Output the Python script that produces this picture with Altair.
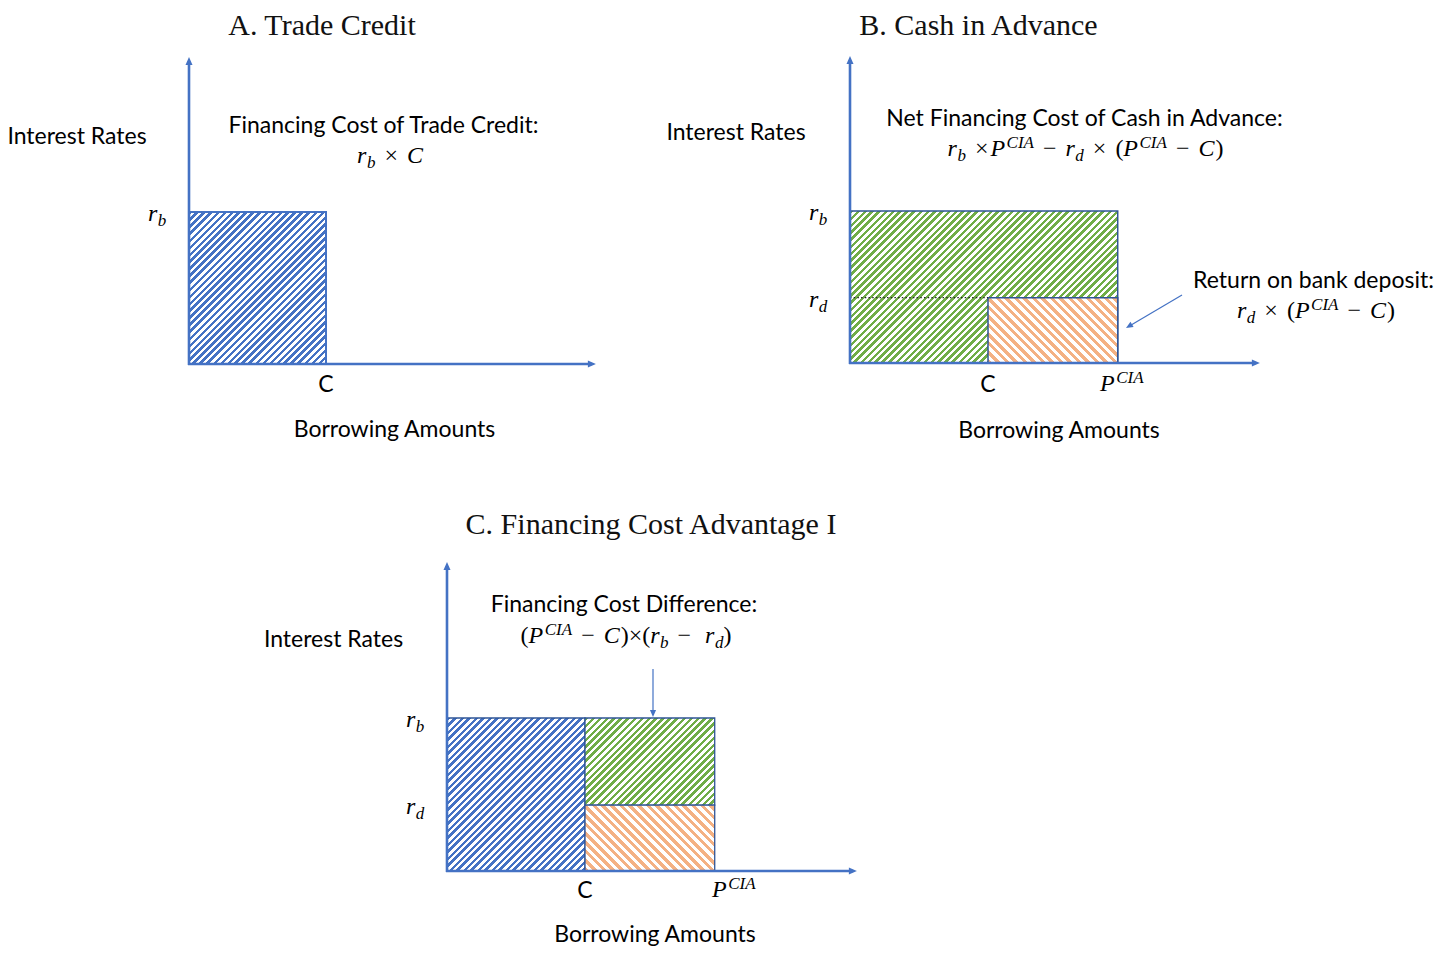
import math
import altair as alt
import pandas as pd

# ---------------- values (diagram units) ----------------
C_AMT = 1.0      # trade-credit amount C
P_CIA = 1.94     # cash-in-advance price P^CIA
R_B = 1.0        # borrowing rate r_b
R_D = 0.43       # deposit rate r_d
X_END = 2.97     # end of the borrowing-amount axis
Y_END = 2.02     # end of the interest-rate axis

panel_ids = ["A", "B", "C"]
panel_titles = ["A. Trade Credit", "B. Cash in Advance", "C. Financing Cost Advantage I"]

rect_panel = ["A", "B", "B", "C", "C", "C"]
rect_kind = ["blue", "green", "orange", "blue", "green", "orange"]
rect_x0 = [0.0, 0.0, C_AMT, 0.0, C_AMT, C_AMT]
rect_x1 = [C_AMT, P_CIA, P_CIA, C_AMT, P_CIA, P_CIA]
rect_y0 = [0.0, 0.0, 0.0, 0.0, R_D, 0.0]
rect_y1 = [R_B, R_B, R_D, R_B, R_B, R_D]

y_label = "Interest Rates"
x_label = "Borrowing Amounts"
c_label = "C"
notes = {
    "A": ["Financing Cost of Trade Credit:"],
    "B": ["Net Financing Cost of Cash in Advance:", "Return on bank deposit:"],
    "C": ["Financing Cost Difference:"],
}
G = 9
formulas = {
    "A": [[("r", "it"), ("b", "sub"), G, ("×", "op"), G, ("C", "it")]],
    "B": [
        [("r", "it"), ("b", "sub"), G, ("×", "op"), 2, ("P", "it"), ("CIA", "sup"), G, ("−", "op"), G,
         ("r", "it"), ("d", "sub"), G, ("×", "op"), G, ("(", "op"), ("P", "it"), ("CIA", "sup"), G,
         ("−", "op"), G, ("C", "it"), 1, (")", "op")],
        [("r", "it"), ("d", "sub"), G, ("×", "op"), G, ("(", "op"), ("P", "it"), ("CIA", "sup"), G,
         ("−", "op"), G, ("C", "it"), 1, (")", "op")],
    ],
    "C": [[("(", "op"), ("P", "it"), ("CIA", "sup"), G, ("−", "op"), G, ("C", "it"), 1, (")", "op"),
           ("×", "op"), ("(", "op"), ("r", "it"), ("b", "sub"), G, ("−", "op"), G + 5, ("r", "it"),
           ("d", "sub"), (")", "op")]],
}
tick_levels = {"A": [("b", R_B)], "B": [("b", R_B), ("d", R_D)], "C": [("b", R_B), ("d", R_D)]}

# ---------------- layout / style (page pixels) ----------------
MARGIN = 8
LAYOUT = {
    "A": dict(ox=189, oy=364, ux=137, uy=152, title=(322, 35), ylab=(77, 143.5), xlab=(394.5, 437),
              cdy=28, notes=[(383.5, 132.5)], forms=[(390, 163)], pcia=None,
              stroke=("#4472C4", 2.0), arrows=[]),
    "B": dict(ox=850, oy=363, ux=138, uy=152, title=(978.5, 35), ylab=(736, 140), xlab=(1059, 438),
              cdy=29, notes=[(1084.5, 126), (1313.5, 288)], forms=[(1085.5, 156), (1316, 318)],
              pcia=(1100, 391), stroke=("#2F5597", 1.5), arrows=[((1182, 295), (1126, 328))]),
    "C": dict(ox=447, oy=871, ux=138, uy=153, title=(651, 534), ylab=(333.5, 647), xlab=(655, 941.5),
              cdy=27, notes=[(624, 612)], forms=[(626, 643)], pcia=(712, 897),
              stroke=("#2F5597", 1.3), arrows=[((653, 669), (653, 717))]),
}
HATCH = {
    "blue": dict(color="#4472C4", period=7.0, duty=0.5, direction="/"),
    "green": dict(color="#70AD47", period=7.0, duty=0.5, direction="/"),
    "orange": dict(color="#F4B183", period=9.0, duty=0.47, direction="\\"),
}
AXIS_COLOR = "#4472C4"
SANS = "Lato"
SERIF = "Liberation Serif"
M_SIZE = 24
S_SIZE = 17
SANS_SIZE = 23
TITLE_SIZE = 30
W_IT = {"r": .389, "b": .5, "d": .5, "C": .667, "P": .611, "I": .333, "A": .611}
W_UP = {"×": .564, "−": .564, "(": .333, ")": .333}
HEAD = "M0,0L0.44,1L-0.44,1Z"


def compose(tokens, x0, base):
    out, x = [], x0
    for tok in tokens:
        if isinstance(tok, (int, float)):
            x += tok
            continue
        text, kind = tok
        if kind == "it":
            out.append(("it", text, x, base))
            x += sum(W_IT[c] for c in text) * M_SIZE
        elif kind == "sub":
            out.append(("script", text, x + 0.5, base + 5))
            x += sum(W_IT[c] for c in text) * S_SIZE + 0.5
        elif kind == "sup":
            out.append(("script", text, x + 1.5, base - 8))
            x += sum(W_IT[c] for c in text) * S_SIZE + 1.5
        else:
            out.append(("op", text, x, base))
            x += sum(W_UP[c] for c in text) * M_SIZE
    return out, x - x0


def hatch(W, H, color, period, duty, direction):
    total = W + H
    a = total / (W * W + H * H)
    if direction == "/":
        x1, y1, x2, y2 = 0, 0, a * W, a * H
    else:
        x1, y1, x2, y2 = 0, 1, a * W, 1 - a * H
    stops = []
    k = 0
    while k * period < total:
        t0 = k * period / total
        tm = min((k + duty) * period / total, 1.0)
        t1 = min((k + 1) * period / total, 1.0)
        stops += [(t0, color), (tm, color), (tm, "#ffffff"), (t1, "#ffffff")]
        k += 1
    return {"gradient": "linear", "x1": x1, "y1": y1, "x2": x2, "y2": y2,
            "stops": [{"offset": round(o, 5), "color": c} for o, c in stops]}


layers = []
for pi, pid in enumerate(panel_ids):
    L = LAYOUT[pid]
    ox, oy, ux, uy = L["ox"], L["oy"], L["ux"], L["uy"]
    xs = alt.Scale(domain=[0, 3], range=[ox - MARGIN, ox - MARGIN + 3 * ux], nice=False, zero=False)
    ys = alt.Scale(domain=[0, 2], range=[oy - MARGIN, oy - MARGIN - 2 * uy], nice=False, zero=False)

    def ex(f="x"):
        return alt.X(f"{f}:Q", scale=xs, axis=None)

    def ey(f="y"):
        return alt.Y(f"{f}:Q", scale=ys, axis=None)

    def to_data(px, py):
        return (px - ox) / ux, (oy - py) / uy

    # hatched rectangles
    for i in range(len(rect_panel)):
        if rect_panel[i] != pid:
            continue
        W = (rect_x1[i] - rect_x0[i]) * ux
        H = (rect_y1[i] - rect_y0[i]) * uy
        df = pd.DataFrame({"x": [rect_x0[i]], "x2": [rect_x1[i]], "y": [rect_y0[i]], "y2": [rect_y1[i]]})
        layers.append(
            alt.Chart(df).mark_rect(fill=hatch(W, H, **HATCH[rect_kind[i]]), stroke=L["stroke"][0],
                                    strokeWidth=L["stroke"][1])
            .encode(x=ex(), x2=alt.X2("x2"), y=ey(), y2=alt.Y2("y2"))
        )

    # dotted line at r_d in panel B
    if pid == "B":
        dd = pd.DataFrame({"x": [0.0], "x2": [C_AMT], "y": [R_D], "y2": [R_D]})
        layers.append(alt.Chart(dd).mark_rule(color="#222222", strokeWidth=1.4, strokeDash=[1.5, 2.2])
                      .encode(x=ex(), x2=alt.X2("x2"), y=ey(), y2=alt.Y2("y2")))

    # axes lines
    ad = pd.DataFrame({"x": [0.0, -1.0 / ux], "x2": [0.0, X_END - 4 / ux],
                       "y": [-1.0 / uy, 0.0], "y2": [Y_END - 4 / uy, 0.0]})
    layers.append(alt.Chart(ad).mark_rule(color=AXIS_COLOR, strokeWidth=2.6)
                  .encode(x=ex(), x2=alt.X2("x2"), y=ey(), y2=alt.Y2("y2")))

    heads_x, heads_y, heads_a, heads_s = [0.0, X_END], [Y_END, 0.0], [0.0, 90.0], [256, 256]

    # annotation arrows
    for (sx, sy), (tx, ty) in L["arrows"]:
        x0d, y0d = to_data(sx, sy)
        dxp, dyp = tx - sx, ty - sy
        ln = (dxp ** 2 + dyp ** 2) ** 0.5
        ex_, ey_ = to_data(tx - dxp / ln * 4, ty - dyp / ln * 4)
        ld = pd.DataFrame({"x": [x0d], "x2": [ex_], "y": [y0d], "y2": [ey_]})
        layers.append(alt.Chart(ld).mark_rule(color=AXIS_COLOR, strokeWidth=1.2)
                      .encode(x=ex(), x2=alt.X2("x2"), y=ey(), y2=alt.Y2("y2")))
        ang = math.degrees(math.atan2(dxp, -dyp)) % 360
        txd, tyd = to_data(tx, ty)
        heads_x.append(txd); heads_y.append(tyd); heads_a.append(round(ang, 2)); heads_s.append(196)

    hd = pd.DataFrame({"x": heads_x, "y": heads_y, "ang": heads_a, "sz": heads_s})
    layers.append(alt.Chart(hd).mark_point(shape=HEAD, filled=True, color=AXIS_COLOR, opacity=1, strokeWidth=0)
                  .encode(x=ex(), y=ey(), angle=alt.Angle("ang:Q", scale=None), size=alt.Size("sz:Q", scale=None)))

    # titles
    tx_, ty_ = to_data(*L["title"])
    layers.append(alt.Chart(pd.DataFrame({"x": [tx_], "y": [ty_], "t": [panel_titles[pi]]}))
                  .mark_text(font=SERIF, fontSize=TITLE_SIZE, align="center", baseline="alphabetic", color="#111111")
                  .encode(x=ex(), y=ey(), text="t:N"))

    # sans labels
    rows = []
    for txt, pos in [(y_label, L["ylab"]), (x_label, L["xlab"])] + list(zip(notes[pid], L["notes"])):
        dx_, dy_ = to_data(*pos)
        rows.append((dx_, dy_, txt))
    rows.append((C_AMT, to_data(0, oy + L["cdy"])[1], c_label))
    sd = pd.DataFrame(rows, columns=["x", "y", "t"])
    layers.append(alt.Chart(sd).mark_text(font=SANS, fontSize=SANS_SIZE, align="center", baseline="alphabetic",
                                          color="#000000")
                  .encode(x=ex(), y=ey(), text="t:N"))

    # math pieces
    pieces = []
    for toks, (cx, by) in zip(formulas[pid], L["forms"]):
        _, wtot = compose(toks, 0, 0)
        p, _ = compose(toks, cx - wtot / 2, by)
        pieces += p
    for sub, level in tick_levels[pid]:
        p, _ = compose([("r", "it"), (sub, "sub")], ox - 41, oy - level * uy + 9)
        pieces += p
    if L["pcia"] is not None:
        p, _ = compose([("P", "it"), ("CIA", "sup")], L["pcia"][0], L["pcia"][1])
        pieces += p
    for style, fsize, fstyle in [("it", M_SIZE, "italic"), ("script", S_SIZE, "italic"), ("op", M_SIZE, "normal")]:
        rr = []
        for s, t, px, py in pieces:
            if s == style:
                dx_, dy_ = to_data(px, py)
                rr.append((dx_, dy_, t))
        if not rr:
            continue
        md = pd.DataFrame(rr, columns=["x", "y", "t"])
        layers.append(alt.Chart(md).mark_text(font=SERIF, fontSize=fsize, fontStyle=fstyle, align="left",
                                              baseline="alphabetic", color="#000000")
                      .encode(x=ex(), y=ey(), text="t:N"))

chart = (
    alt.layer(*layers)
    .resolve_scale(x="independent", y="independent")
    .properties(width=1429, height=939, padding=0, autosize=alt.AutoSizeParams(type="none"))
    .configure_view(stroke="transparent")
)
chart.save("out.html", embed_options={"renderer": "svg", "actions": False})
